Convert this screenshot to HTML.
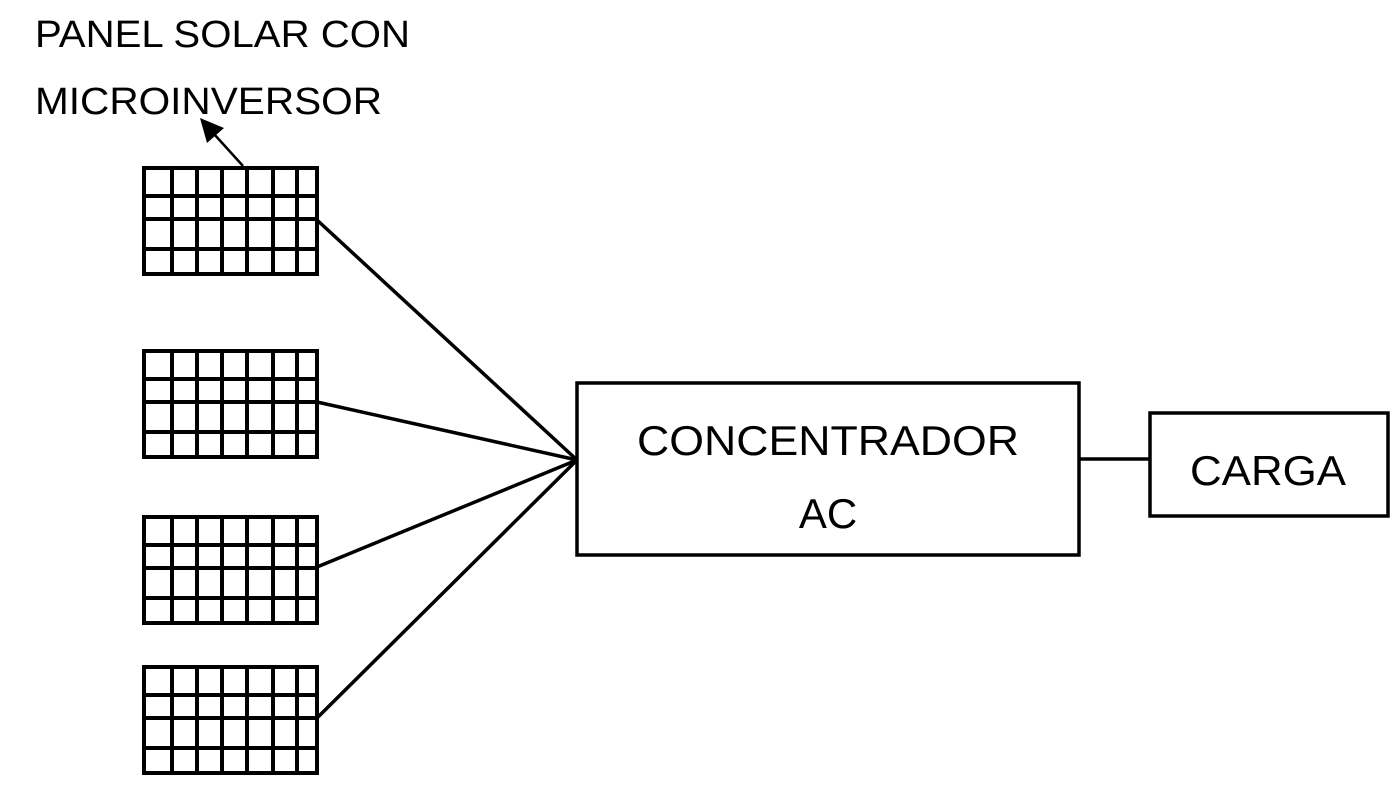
<!DOCTYPE html>
<html><head><style>html,body{margin:0;padding:0;background:#fff}</style></head>
<body>
<svg width="1400" height="788" viewBox="0 0 1400 788" xmlns="http://www.w3.org/2000/svg" font-family="Liberation Sans, sans-serif">
<defs>
<g id="p" fill="none" stroke="#000" stroke-width="4">
<rect x="144" y="0" width="173" height="106"/>
<path d="M172 0V106M197 0V106M222 0V106M247 0V106M273 0V106M297 0V106M144 28H317M144 51H317M144 81H317"/>
</g>
</defs>
<text x="35" y="47" font-size="38" textLength="375" lengthAdjust="spacingAndGlyphs">PANEL SOLAR CON</text>
<text x="35" y="114" font-size="38" textLength="347" lengthAdjust="spacingAndGlyphs">MICROINVERSOR</text>
<line x1="243" y1="166" x2="214" y2="134" stroke="#000" stroke-width="2.5"/>
<polygon points="200,118 224,128 207,143" fill="#000"/>
<use href="#p" y="168"/>
<use href="#p" y="351"/>
<use href="#p" y="517"/>
<use href="#p" y="667"/>
<g stroke="#000" stroke-width="3.5">
<line x1="317" y1="220" x2="577" y2="460"/>
<line x1="317" y1="402" x2="577" y2="460"/>
<line x1="317" y1="567" x2="577" y2="460"/>
<line x1="317" y1="718" x2="577" y2="460"/>
<line x1="1079" y1="459" x2="1150" y2="459"/>
</g>
<rect x="577" y="383" width="502" height="172" fill="none" stroke="#000" stroke-width="3.5"/>
<rect x="1150" y="413" width="238" height="103" fill="none" stroke="#000" stroke-width="3.5"/>
<text x="828" y="455" font-size="42" text-anchor="middle" textLength="382" lengthAdjust="spacingAndGlyphs">CONCENTRADOR</text>
<text x="828" y="528" font-size="42" text-anchor="middle">AC</text>
<text x="1268" y="485" font-size="42" text-anchor="middle" textLength="156" lengthAdjust="spacingAndGlyphs">CARGA</text>
</svg>
</body></html>
